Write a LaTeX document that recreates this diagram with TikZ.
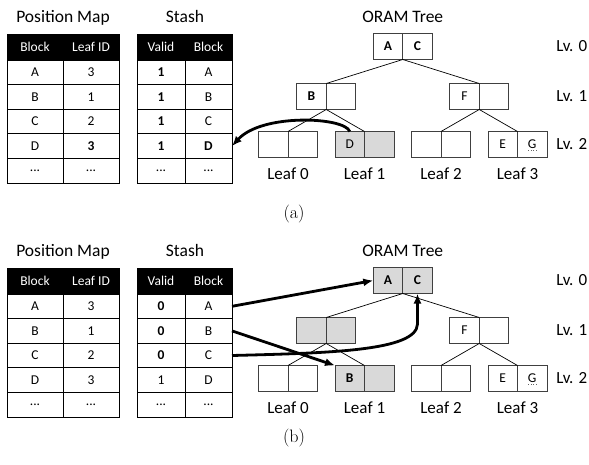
\documentclass[tikz,border=0pt]{standalone}
\usepackage{fontspec}
\newfontfamily\carlito{Carlito}
\usetikzlibrary{positioning,arrows.meta}
\tikzset{every picture/.style={line width=0.8pt}}
\newcommand{\moredots}{...}
\tikzset{
  colhead/.style={draw=black,fill=black,text=white,minimum height=26,inner sep=0pt,outer sep=0pt,font=\carlito\fontsize{13.5}{15}\selectfont},
  entry/.style={draw=black,minimum height=24.6,inner sep=0pt,outer sep=0pt,font=\carlito\fontsize{13.5}{15}\selectfont},
  slot/.style={draw=black!75,minimum width=29.5,minimum height=26,inner sep=0pt,outer sep=0pt,font=\carlito\fontsize{13.5}{15}\selectfont},
  used/.style={fill=black!15},
  heading/.style={inner sep=0pt,text depth=0pt,font=\carlito\fontsize{17.5}{20}\selectfont},
  leafname/.style={inner sep=0pt,text depth=0pt,font=\carlito\fontsize{17}{20}\selectfont},
  lvname/.style={anchor=west,inner sep=0pt,font=\carlito\fontsize{17}{20}\selectfont},
  treeline/.style={line width=0.7pt},
  fetch/.style={line width=2.8pt,-{Latex[length=10pt,width=8pt]}},
  subfig/.style={font=\fontsize{18}{20}\selectfont},
}

\begin{document}
\begin{tikzpicture}[x=1pt,y=1pt,yscale=-1,xscale=1]
\useasboundingbox (0,0) rectangle (589,464);

%%%%%%%%%%%%%%%%%%%%%%%%%%%% (a) %%%%%%%%%%%%%%%%%%%%%%%%%%%%
\begin{scope}[name prefix=a-]
% position map
\node[colhead,minimum width=56] (pk0) at (35,47) {Block};
\node[colhead,minimum width=56,right=0pt of pk0] (pv0) {Leaf ID};
\foreach \k/\v [count=\i] in {A/3,B/1,C/2,D/\bfseries 3,\moredots/\moredots}
{
  \node[entry,minimum width=56] (pk\i) at (35,{60+24.6*(\i-0.5)}) {\k};
  \node[entry,minimum width=56,right=0pt of pk\i] (pv\i) {\v};
}
\node[heading,above=11pt of pk0.north east] (pmap) {Position Map};

% stash
\node[colhead,minimum width=48] (sv0) at (161,47) {Valid};
\node[colhead,minimum width=47,right=0pt of sv0] (sb0) {Block};
\foreach \f/\b [count=\i] in {\bfseries 1/A,\bfseries 1/B,\bfseries 1/C,\bfseries 1/\bfseries D,\moredots/\moredots}
{
  \node[entry,minimum width=48] (sv\i) at (161,{60+24.6*(\i-0.5)}) {\f};
  \node[entry,minimum width=47,right=0pt of sv\i] (sb\i) {\b};
}
\node[heading,above=11pt of sv0.north east] (stash) {Stash};

% oram tree
\node[slot] (n0a) at (388,46.5) {\bfseries A};
\node[slot,right=0pt of n0a] (n0b) {\bfseries C};
\node[slot] (n1a) at (311.5,96.5) {\bfseries B};
\node[slot,right=0pt of n1a] (n1b) {};
\node[slot] (n2a) at (464.5,96.5) {F};
\node[slot,right=0pt of n2a] (n2b) {};
\node[slot] (lf0a) at (273.25,144.5) {};
\node[slot,right=0pt of lf0a] (lf0b) {};
\node[slot,used] (lf1a) at (349.75,144.5) {D};
\node[slot,used,right=0pt of lf1a] (lf1b) {};
\node[slot] (lf2a) at (426.25,144.5) {};
\node[slot,right=0pt of lf2a] (lf2b) {};
\node[slot] (lf3a) at (502.75,144.5) {E};
\node[slot,right=0pt of lf3a] (lf3b) {G};
\draw[dotted,line width=0.6pt,black!60] ([xshift=-4pt,yshift=6pt]lf3b.center) -- ([xshift=4pt,yshift=6pt]lf3b.center);
\node[heading,above=11pt of n0a.north east] (tree) {ORAM Tree};

\draw[treeline] (n0a.south east) -- (n1a.north east);
\draw[treeline] (n0a.south east) -- (n2a.north east);
\draw[treeline] (n1a.south east) -- (lf0a.north east);
\draw[treeline] (n1a.south east) -- (lf1a.north east);
\draw[treeline] (n2a.south east) -- (lf2a.north east);
\draw[treeline] (n2a.south east) -- (lf3a.north east);

\foreach \j in {0,1,2,3}
  \node[leafname,below=10pt of lf\j a.south east] (lb\j) {Leaf \j};
\node[lvname] (lv0) at (556,0 |- n0a) {Lv. 0};
\node[lvname] (lv1) at (556,0 |- n1a) {Lv. 1};
\node[lvname] (lv2) at (556,0 |- lf0a) {Lv. 2};

% block D read into the stash
\draw[fetch] (lf1a.north) .. controls (345,117) and (262,113) .. (sb4.east);

\node[subfig] (caption) at (294,214) {(a)};
\end{scope}

%%%%%%%%%%%%%%%%%%%%%%%%%%%% (b) %%%%%%%%%%%%%%%%%%%%%%%%%%%%
\begin{scope}[name prefix=b-,shift={(0,234)}]
% position map
\node[colhead,minimum width=56] (pk0) at (35,47) {Block};
\node[colhead,minimum width=56,right=0pt of pk0] (pv0) {Leaf ID};
\foreach \k/\v [count=\i] in {A/3,B/1,C/2,D/3,\moredots/\moredots}
{
  \node[entry,minimum width=56] (pk\i) at (35,{60+24.6*(\i-0.5)}) {\k};
  \node[entry,minimum width=56,right=0pt of pk\i] (pv\i) {\v};
}
\node[heading,above=11pt of pk0.north east] (pmap) {Position Map};

% stash
\node[colhead,minimum width=48] (sv0) at (161,47) {Valid};
\node[colhead,minimum width=47,right=0pt of sv0] (sb0) {Block};
\foreach \f/\b [count=\i] in {\bfseries 0/A,\bfseries 0/B,\bfseries 0/C,1/D,\moredots/\moredots}
{
  \node[entry,minimum width=48] (sv\i) at (161,{60+24.6*(\i-0.5)}) {\f};
  \node[entry,minimum width=47,right=0pt of sv\i] (sb\i) {\b};
}
\node[heading,above=11pt of sv0.north east] (stash) {Stash};

% oram tree
\node[slot,used] (n0a) at (388,46.5) {\bfseries A};
\node[slot,used,right=0pt of n0a] (n0b) {\bfseries C};
\node[slot,used] (n1a) at (311.5,96.5) {};
\node[slot,used,right=0pt of n1a] (n1b) {};
\node[slot] (n2a) at (464.5,96.5) {F};
\node[slot,right=0pt of n2a] (n2b) {};
\node[slot] (lf0a) at (273.25,144.5) {};
\node[slot,right=0pt of lf0a] (lf0b) {};
\node[slot,used] (lf1a) at (349.75,144.5) {\bfseries B};
\node[slot,used,right=0pt of lf1a] (lf1b) {};
\node[slot] (lf2a) at (426.25,144.5) {};
\node[slot,right=0pt of lf2a] (lf2b) {};
\node[slot] (lf3a) at (502.75,144.5) {E};
\node[slot,right=0pt of lf3a] (lf3b) {G};
\draw[dotted,line width=0.6pt,black!60] ([xshift=-4pt,yshift=6pt]lf3b.center) -- ([xshift=4pt,yshift=6pt]lf3b.center);
\node[heading,above=11pt of n0a.north east] (tree) {ORAM Tree};

\draw[treeline] (n0a.south east) -- (n1a.north east);
\draw[treeline] (n0a.south east) -- (n2a.north east);
\draw[treeline] (n1a.south east) -- (lf0a.north east);
\draw[treeline] (n1a.south east) -- (lf1a.north east);
\draw[treeline] (n2a.south east) -- (lf2a.north east);
\draw[treeline] (n2a.south east) -- (lf3a.north east);

\foreach \j in {0,1,2,3}
  \node[leafname,below=10pt of lf\j a.south east] (lb\j) {Leaf \j};
\node[lvname] (lv0) at (556,0 |- n0a) {Lv. 0};
\node[lvname] (lv1) at (556,0 |- n1a) {Lv. 1};
\node[lvname] (lv2) at (556,0 |- lf0a) {Lv. 2};

% evicting A, B and C back along the path
\draw[fetch] (sb1.east) -- (n0a.west);
\draw[fetch] (sb2.east) -- (lf1a.north west);
\draw[fetch] (sb3.east) .. controls (330,119) and (416.75,117) .. (n0b.south |- 0,90) -- (n0b.south);

\node[subfig] (caption) at (294,204) {(b)};
\end{scope}

\end{tikzpicture}
\end{document}
